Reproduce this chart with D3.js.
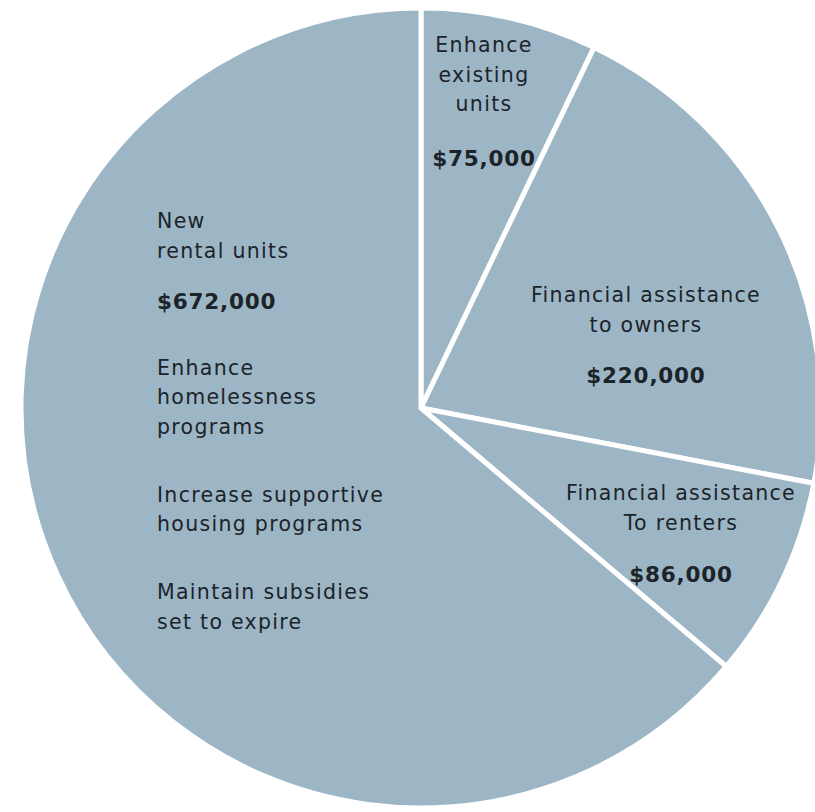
<!DOCTYPE html>
<html>
<head>
<meta charset="utf-8">
<script src="https://cdn.jsdelivr.net/npm/d3@7/dist/d3.min.js"></script>
<style>
  html, body { margin: 0; padding: 0; background: #ffffff; }
  svg { display: block; }
</style>
</head>
<body>
<script>
// Funding allocation by program area (dollars), clockwise from 12 o'clock
const categories = [
  "Enhance existing units",
  "Financial assistance to owners",
  "Financial assistance to renters",
  "New rental units"
];
const amounts = [75000, 220000, 86000, 672000];

// Text lines drawn inside each slice; the amount line is generated from `amounts`
const labelLines = [
  ["Enhance", "existing", "units"],
  ["Financial assistance", "to owners"],
  ["Financial assistance", "To renters"],
  ["New", "rental units"]
];
// Extra program lines listed under the largest slice's amount
const extraLines = [
  ["Enhance", "homelessness", "programs"],
  ["Increase supportive", "housing programs"],
  ["Maintain subsidies", "set to expire"]
];

const width = 815, height = 812;
const cx = 421, cy = 408, radius = 400;
const fill = "#9cb6c5";
const ink = "#1c2329";

const svg = d3.select("body").append("svg")
  .attr("width", width)
  .attr("height", height);

const g = svg.append("g").attr("transform", `translate(${cx},${cy})`);

const pie = d3.pie().sort(null).value(d => d.value);
const arcs = pie(categories.map((c, i) => ({ name: c, value: amounts[i] })));
const arc = d3.arc().innerRadius(0).outerRadius(radius);

g.selectAll("path.slice")
  .data(arcs)
  .join("path")
  .attr("class", "slice")
  .attr("d", arc)
  .attr("fill", fill)
  .attr("stroke", "#ffffff")
  .attr("stroke-width", 5)
  .attr("stroke-linejoin", "miter");

const fmt = d3.format("$,");

// Text block placement (page coordinates): anchor x, first baseline, alignment
const blockLayout = [
  { x: 484, y: 52,  anchor: "middle", gapBeforeValue: 55 },
  { x: 646, y: 302, anchor: "middle", gapBeforeValue: 51 },
  { x: 681, y: 500, anchor: "middle", gapBeforeValue: 52 },
  { x: 157, y: 228, anchor: "start",  gapBeforeValue: 51 }
];
const lineStep = 29.5;
const groupGap = 66;

const regularFont = { family: "DejaVu Sans", size: 20.5, spacing: 1.3, weight: 400 };
const boldFont = { family: "DejaVu Sans", size: 21.5, spacing: 0.8, weight: 700 };

function addText(x, y, str, anchor, f) {
  svg.append("text")
    .attr("x", x)
    .attr("y", y)
    .attr("text-anchor", anchor)
    .attr("font-family", f.family)
    .attr("font-size", f.size)
    .attr("font-weight", f.weight)
    .attr("letter-spacing", f.spacing)
    .attr("fill", ink)
    .text(str);
}

arcs.forEach((a, i) => {
  const L = blockLayout[i];
  let y = L.y;
  labelLines[i].forEach((line, k) => {
    if (k > 0) y += lineStep;
    addText(L.x, y, line, L.anchor, regularFont);
  });
  y += L.gapBeforeValue;
  addText(L.x, y, fmt(a.value), L.anchor, boldFont);

  if (i === 3) {
    y += groupGap;
    extraLines.forEach((grp, gi) => {
      if (gi > 0) y += groupGap + 2;
      grp.forEach((line, k) => {
        if (k > 0) y += lineStep;
        addText(L.x, y, line, L.anchor, regularFont);
      });
    });
  }
});
</script>
</body>
</html>
